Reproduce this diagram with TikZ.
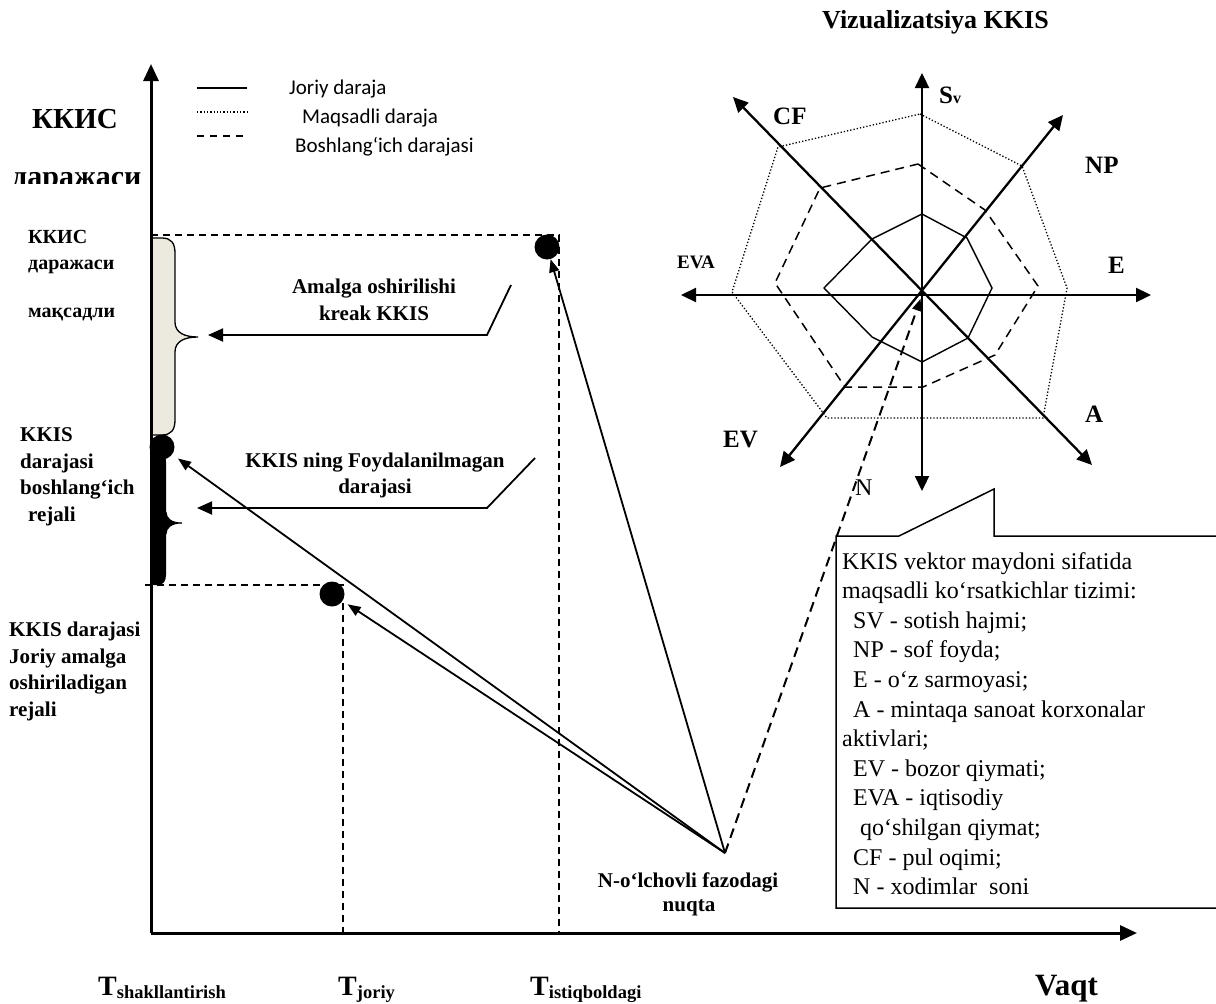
\documentclass[tikz,border=0pt]{standalone}
\usepackage{fontspec}
\setmainfont{Liberation Serif}
\newfontfamily\legendfont{Carlito}
\usetikzlibrary{arrows.meta}
\definecolor{beigefill}{RGB}{236,233,222}
\begin{document}
\begin{tikzpicture}[x=1pt,y=-1pt,
  axisarrow/.style={line width=3pt,-{Triangle[length=17pt,width=15pt]}},
  polaraxis/.style={line width=2.3pt,{Triangle[length=15pt,width=14pt]}-{Triangle[length=15pt,width=14pt]}},
  vecarrow/.style={line width=1.8pt,-{Triangle[length=13pt,width=10pt]}},
  callarrow/.style={line width=1.8pt,-{Triangle[length=15pt,width=13pt]}},
  guide/.style={line width=1.4pt,dash pattern=on 7pt off 5pt},
  curlevel/.style={line width=1.4pt},
  tgtlevel/.style={line width=1.3pt,dash pattern=on 1.3pt off 2pt},
  baselevel/.style={line width=1.5pt,dash pattern=on 9pt off 6pt},
  ball/.style={circle,fill=black,inner sep=0pt,minimum size=25pt},
  lbl/.style={inner sep=0pt,anchor=base,font=\fontsize{21}{26}\selectfont\bfseries},
  lblw/.style={inner sep=0pt,anchor=base west,font=\fontsize{21}{26}\selectfont\bfseries},
  plbl/.style={inner sep=0pt,anchor=base west,font=\fontsize{25}{30}\selectfont\bfseries},
  note/.style={inner sep=0pt,anchor=base west,font=\fontsize{24}{29}\selectfont},
  leg/.style={inner sep=0pt,anchor=base west,font=\legendfont\fontsize{21}{25}\selectfont},
  tlbl/.style={inner sep=0pt,anchor=base west,font=\bfseries},
]
\useasboundingbox (0,0) rectangle (1216,1004);

% ---------- title ----------
\node[inner sep=0pt,anchor=base west,font=\fontsize{26}{30}\selectfont\bfseries] (title) at (822,28) {Vizualizatsiya KKIS};

% ---------- legend ----------
\coordinate (l1a) at (197,88);  \coordinate (l1b) at (247,88);
\coordinate (l2a) at (197,112); \coordinate (l2b) at (247,112);
\coordinate (l3a) at (197,136); \coordinate (l3b) at (247,136);
\draw[curlevel] (l1a) -- (l1b);
\draw[tgtlevel] (l2a) -- (l2b);
\draw[line width=1.5pt,dash pattern=on 7pt off 6pt] (l3a) -- (l3b);
\node[leg] (legA) at (289,94) {Joriy daraja};
\node[leg] (legB) at (302,123) {Maqsadli daraja};
\node[leg] (legC) at (295,152) {Boshlang‘ich darajasi};

% ---------- y-axis title ----------
\node[inner sep=0pt,anchor=base west,font=\fontsize{29}{34}\selectfont\bfseries] (ytitle) at (32,128) {ККИС};
\begin{scope}
  \clip (0,150) rectangle (151,183);
  \node[inner sep=0pt,anchor=base west,font=\fontsize{30}{34}\selectfont\bfseries] (ytitleb) at (12,186) {даражаси};
\end{scope}

% ---------- braces ----------
\fill[beigefill] (151,238) -- (162,238) .. controls (171,238) and (175,243) .. (175,253) -- (175,322)
  .. controls (175,333) and (185,337) .. (198,337) .. controls (185,337) and (175,341) .. (175,352)
  -- (175,420) .. controls (175,430) and (171,435) .. (162,435) -- (151,435) -- cycle;
\draw[line width=1.3pt] (151,238) -- (162,238) .. controls (171,238) and (175,243) .. (175,253) -- (175,322)
  .. controls (175,333) and (185,337) .. (198,337) .. controls (185,337) and (175,341) .. (175,352)
  -- (175,420) .. controls (175,430) and (171,435) .. (162,435) -- (151,435);
\fill[black] (151,452) -- (159,452) .. controls (164,452) and (166,456) .. (166,462) -- (166,512)
  .. controls (166,519) and (172,523) .. (182,523) .. controls (172,523) and (166,527) .. (166,534)
  -- (166,575) .. controls (166,581) and (163,585) .. (158,585) -- (151,585) -- cycle;
\draw[line width=1pt] (166,512) .. controls (166,519) and (172,523) .. (182,523) .. controls (172,523) and (166,527) .. (166,534);

% ---------- guides ----------
\coordinate (g1a) at (151,235); \coordinate (g1b) at (559,235); \coordinate (g1c) at (559,933);
\coordinate (g2a) at (145,585); \coordinate (g2b) at (343,585); \coordinate (g2c) at (343,933);
\draw[guide] (g1a) -- (g1b) -- (g1c);
\draw[guide] (g2a) -- (g2b) -- (g2c);

% ---------- axes ----------
\coordinate (orig) at (151,933);
\coordinate (ytip) at (151,64);
\coordinate (xtip) at (1137,933);
\draw[axisarrow] (orig) -- (ytip);
\draw[axisarrow] (orig) -- (xtip);

% ---------- points ----------
\node[ball] (ptT) at (547,247) {};
\node[ball] (ptS) at (162,447) {};
\node[ball] (ptC) at (332,594) {};
\coordinate (O) at (725,853);
\coordinate (C) at (922,295);

\draw[vecarrow] (O) -- (ptT);
\draw[vecarrow,shorten >=7pt] (O) -- (ptS);
\draw[vecarrow,shorten >=6pt] (O) -- (ptC);

% ---------- left labels ----------
\node[inner sep=0pt,anchor=base west,font=\fontsize{20}{24}\selectfont\bfseries] (lt1) at (28,243) {ККИС};
\node[inner sep=0pt,anchor=base west,font=\fontsize{20}{24}\selectfont\bfseries] (lt2) at (28,269) {даражаси};
\node[inner sep=0pt,anchor=base west,font=\fontsize{20}{24}\selectfont\bfseries] (lt3) at (28,317) {мақсадли};

\node[lblw] (ls1) at (20,441) {KKIS};
\node[lblw] (ls2) at (20,468) {darajasi};
\node[lblw] (ls3) at (20,494) {boshlang‘ich};
\node[lblw] (ls4) at (28,521) {rejali};

\node[lblw] (lc1) at (9,636) {KKIS darajasi};
\node[lblw] (lc2) at (9,663) {Joriy amalga};
\node[lblw] (lc3) at (9,689) {oshiriladigan};
\node[lblw] (lc4) at (9,716) {rejali};

% ---------- callouts ----------
\node[lbl] (ca1) at (374,293) {Amalga oshirilishi};
\node[lbl] (ca2) at (374,320) {kreak KKIS};
\coordinate (c1s) at (511,285); \coordinate (c1k) at (487,335); \coordinate (c1e) at (208,335);
\draw[callarrow] (c1s) -- (c1k) -- (c1e);

\node[lbl] (cb1) at (375,467) {KKIS ning Foydalanilmagan};
\node[lbl] (cb2) at (375,493) {darajasi};
\coordinate (c2s) at (535,458); \coordinate (c2k) at (487,508); \coordinate (c2e) at (197,508);
\draw[callarrow] (c2s) -- (c2k) -- (c2e);

\node[lbl] (pt1) at (688,887) {N-o‘lchovli fazodagi};
\node[lbl] (pt2) at (689,911) {nuqta};

% ---------- polar chart ----------
\draw[tgtlevel] (920,114) -- (1022,166) -- (1067,288) -- (1043,418) -- (827,418) -- (732,292) -- (778,147) -- cycle;
\draw[baselevel] (918,164) -- (985,210) -- (1038,286) -- (995,355) -- (923,387) -- (845,387) -- (775,283) -- (820,188) -- cycle;
\draw[curlevel] (922,214) -- (967,238) -- (992,288) -- (968,338) -- (922,362) -- (872,337) -- (824,288) -- (872,239) -- cycle;

\coordinate (axSv) at (922,73);  \coordinate (axSvb) at (922,491);
\coordinate (axEVA) at (681,295); \coordinate (axE) at (1151,295);
\coordinate (axCF) at (733,97);  \coordinate (axA) at (1092,465);
\coordinate (axNP) at (1063,115); \coordinate (axEV) at (780,467);
\draw[polaraxis] (axSvb) -- (axSv);
\draw[polaraxis] (axEVA) -- (axE);
\draw[polaraxis] (axA) -- (axCF);
\draw[polaraxis] (axEV) -- (axNP);

\node[plbl] (nSv) at (939,103) {S{\fontsize{16}{18}\selectfont v}};
\node[plbl] (nCF) at (773,124) {CF};
\node[plbl] (nNP) at (1085,173) {NP};
\node[plbl] (nE) at (1108,273) {E};
\node[inner sep=0pt,anchor=base west,font=\fontsize{19}{22}\selectfont\bfseries] (nEVA) at (677,268) {EVA};
\node[plbl] (nA) at (1085,422) {A};
\node[plbl] (nEV) at (723,447) {EV};
\node[inner sep=0pt,anchor=base west,font=\fontsize{24}{28}\selectfont] (nN) at (855,495) {N};

\draw[line width=2pt,dash pattern=on 10pt off 6pt,-{Triangle[length=12pt,width=9pt]},shorten >=4pt] (O) -- (C);

% ---------- callout box ----------
\coordinate (b1) at (836,908); \coordinate (b2) at (836,536); \coordinate (b3) at (899,536);
\coordinate (b4) at (994,489); \coordinate (b5) at (994,536); \coordinate (b6) at (1218,536);
\coordinate (b7) at (1218,908);
\draw[line width=1.5pt] (b7) -- (b1) -- (b2) -- (b3) -- (b4) -- (b5) -- (b6);

\node[note] (t1) at (842,569) {KKIS vektor maydoni sifatida};
\node[note] (t2) at (842,598.6) {maqsadli ko‘rsatkichlar tizimi:};
\node[note] (t3) at (853,628.2) {SV - sotish hajmi;};
\node[note] (t4) at (853,657.8) {NP - sof foyda;};
\node[note] (t5) at (853,687.4) {E - o‘z sarmoyasi;};
\node[note] (t6) at (853,717) {A - mintaqa sanoat korxonalar};
\node[note] (t7) at (842,746.6) {aktivlari;};
\node[note] (t8) at (853,776.2) {EV - bozor qiymati;};
\node[note] (t9) at (853,805.8) {EVA - iqtisodiy};
\node[note] (t10) at (860,835.4) {qo‘shilgan qiymat;};
\node[note] (t11) at (853,865) {CF - pul oqimi;};
\node[note] (t12) at (853,894.6) {N - xodimlar\ \ soni};

% ---------- time labels ----------
\node[tlbl] (T1) at (98,995) {\fontsize{28}{32}\selectfont T\raisebox{-3pt}{\fontsize{18.5}{22}\selectfont shakllantirish}};
\node[tlbl] (T2) at (338,995) {\fontsize{28}{32}\selectfont T\raisebox{-3pt}{\fontsize{18.5}{22}\selectfont joriy}};
\node[tlbl] (T3) at (530,995) {\fontsize{28}{32}\selectfont T\raisebox{-3pt}{\fontsize{18.5}{22}\selectfont istiqboldagi}};
\node[tlbl] (Vq) at (1035,995) {\fontsize{31}{36}\selectfont Vaqt};

\end{tikzpicture}
\end{document}
